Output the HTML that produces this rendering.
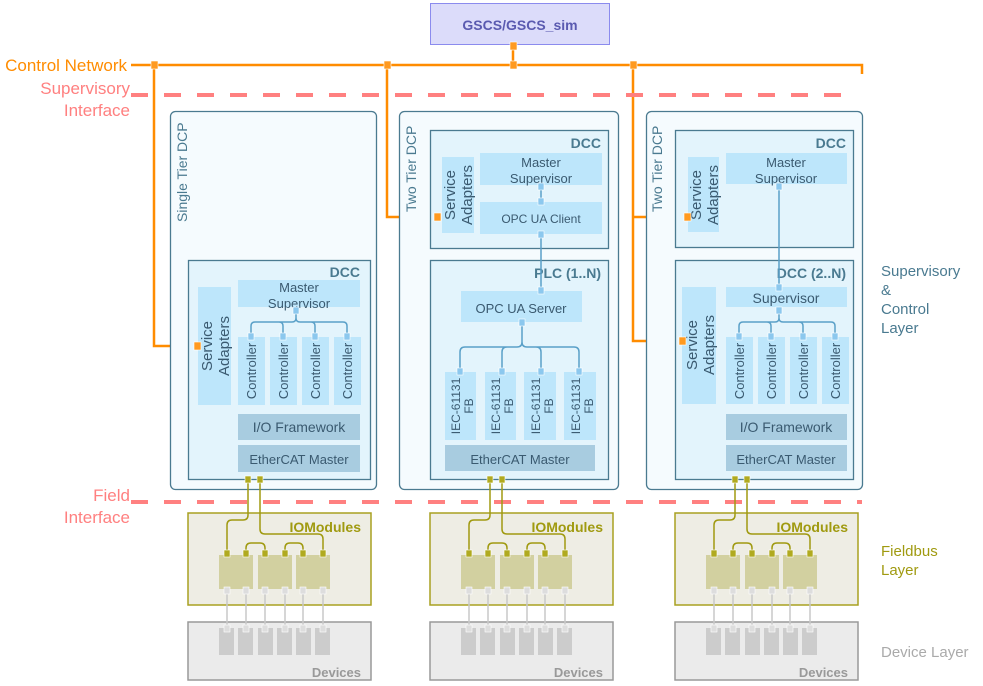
<!DOCTYPE html>
<html><head><meta charset="utf-8"><style>
html,body{margin:0;padding:0;background:#fff;}
svg{display:block;font-family:"Liberation Sans",Arial,sans-serif;}
</style></head><body>
<svg width="983" height="686" viewBox="0 0 983 686" xmlns="http://www.w3.org/2000/svg">
<defs>
<g id="fb">
  <!-- IOModules box -->
  <rect x="188" y="513" width="183" height="92" fill="#eeede4" stroke="#a8a020" stroke-width="1.5"/>
  <text x="361" y="532" text-anchor="end" font-size="14" font-weight="bold" fill="#a09a10">IOModules</text>
  <rect x="219" y="555" width="34" height="34" fill="#d2d0a0"/>
  <rect x="258" y="555" width="34" height="34" fill="#d2d0a0"/>
  <rect x="296" y="555" width="34" height="34" fill="#d2d0a0"/>
  <!-- wires EtherCAT to modules -->
  <path d="M248 481 V515 Q248 520 243 520 H232 Q227 520 227 525 V552" fill="none" stroke="#a09a10" stroke-width="1.5"/>
  <path d="M260 481 V529 Q260 534 265 534 H318 Q323 534 323 539 V552" fill="none" stroke="#a09a10" stroke-width="1.5"/>
  <path d="M246 552 V548 Q246 543 251 543 H260 Q265 543 265 548 V552" fill="none" stroke="#a09a10" stroke-width="1.5"/>
  <path d="M285 552 V548 Q285 543 290 543 H298 Q303 543 303 548 V552" fill="none" stroke="#a09a10" stroke-width="1.5"/>
  <rect x="245" y="476" width="6" height="7" fill="#b0aa20" stroke="#fff" stroke-width="0.6"/>
  <rect x="257" y="476" width="6" height="7" fill="#b0aa20" stroke="#fff" stroke-width="0.6"/>
  <g fill="#b0aa20" stroke="#fff" stroke-width="0.6">
    <rect x="224" y="550" width="6" height="7"/><rect x="243" y="550" width="6" height="7"/>
    <rect x="262" y="550" width="6" height="7"/><rect x="282" y="550" width="6" height="7"/>
    <rect x="300" y="550" width="6" height="7"/><rect x="320" y="550" width="6" height="7"/>
  </g>
  <rect x="188" y="622" width="183" height="58" fill="#ebebeb" stroke="#999" stroke-width="1.5"/>
  <g fill="#cccccc">
    <rect x="219" y="628" width="15" height="27"/><rect x="238" y="628" width="15" height="27"/>
    <rect x="258" y="628" width="15" height="27"/><rect x="277" y="628" width="15" height="27"/>
    <rect x="296" y="628" width="15" height="27"/><rect x="315" y="628" width="15" height="27"/>
  </g>
  <g stroke="#c8c8c8" stroke-width="1.5">
    <line x1="227" y1="590" x2="227" y2="628"/><line x1="246" y1="590" x2="246" y2="628"/>
    <line x1="265" y1="590" x2="265" y2="628"/><line x1="285" y1="590" x2="285" y2="628"/>
    <line x1="303" y1="590" x2="303" y2="628"/><line x1="323" y1="590" x2="323" y2="628"/>
  </g>
  <g fill="#ddd" stroke="#fff" stroke-width="0.6">
    <rect x="224" y="587" width="6" height="7"/><rect x="243" y="587" width="6" height="7"/>
    <rect x="262" y="587" width="6" height="7"/><rect x="282" y="587" width="6" height="7"/>
    <rect x="300" y="587" width="6" height="7"/><rect x="320" y="587" width="6" height="7"/>
    <rect x="224" y="625" width="6" height="7"/><rect x="243" y="625" width="6" height="7"/>
    <rect x="262" y="625" width="6" height="7"/><rect x="282" y="625" width="6" height="7"/>
    <rect x="300" y="625" width="6" height="7"/><rect x="320" y="625" width="6" height="7"/>
  </g>
  <text x="361" y="677" text-anchor="end" font-size="13" font-weight="bold" fill="#999">Devices</text>
</g>
</defs>

<!-- GSCS -->
<rect x="430.5" y="3.5" width="179" height="41" fill="#dcdcfa" stroke="#8b8bee" stroke-width="1"/>
<text x="520" y="30" text-anchor="middle" font-size="14" font-weight="bold" fill="#5a5ab0">GSCS/GSCS_sim</text>

<!-- control network -->
<g stroke="#ff8c00" stroke-width="2.5" fill="none">
  <path d="M131 65 H862 V74"/>
  <line x1="513" y1="44" x2="513" y2="65"/>
  <path d="M154 65 V346 H197"/>
  <path d="M387 65 V217 H437"/>
  <path d="M633 65 V341 H683"/>
  <path d="M633 217 H688"/>
</g>
<g fill="#ff9a20" stroke="#fff" stroke-width="0.6">
  <rect x="151" y="61" width="7" height="8"/><rect x="384" y="61" width="7" height="8"/>
  <rect x="510" y="61" width="7" height="8"/><rect x="510" y="42" width="7" height="8"/>
  <rect x="630" y="61" width="7" height="8"/>
</g>

<!-- dashed interfaces -->
<line x1="131" y1="95" x2="852" y2="95" stroke="#ff8080" stroke-width="4" stroke-dasharray="17,16"/>
<line x1="131" y1="502" x2="862" y2="502" stroke="#ff8080" stroke-width="4" stroke-dasharray="17,16"/>

<!-- left labels -->
<text x="127" y="71" text-anchor="end" font-size="17" fill="#ff8c00">Control Network</text>
<text x="130" y="94" text-anchor="end" font-size="17" fill="#ff8080">Supervisory</text>
<text x="130" y="116" text-anchor="end" font-size="17" fill="#ff8080">Interface</text>
<text x="130" y="501" text-anchor="end" font-size="17" fill="#ff8080">Field</text>
<text x="130" y="523" text-anchor="end" font-size="17" fill="#ff8080">Interface</text>

<!-- right labels -->
<g font-size="15" fill="#4a7a90">
<text x="881" y="276">Supervisory</text><text x="881" y="295">&amp;</text>
<text x="881" y="314">Control</text><text x="881" y="333">Layer</text>
</g>
<text x="881" y="556" font-size="15" fill="#a09a10">Fieldbus</text>
<text x="881" y="575" font-size="15" fill="#a09a10">Layer</text>
<text x="881" y="657" font-size="15" fill="#aaa">Device Layer</text>

<!-- ===== Box 1 ===== -->
<rect x="170.5" y="111.5" width="206" height="378" rx="5" fill="#f5fbfe" stroke="#4a7a90" stroke-width="1.3"/>
<text transform="translate(187,222) rotate(-90)" font-size="14" fill="#4a7a90">Single Tier DCP</text>
<rect x="188.5" y="260.5" width="182" height="219" fill="#e3f4fc" stroke="#4a7a90" stroke-width="1.3"/>
<text x="360" y="277" text-anchor="end" font-size="14" font-weight="bold" fill="#4a7a90">DCC</text>
<rect x="198" y="287" width="33" height="118" fill="#bde6fb"/>
<text transform="translate(212,346) rotate(-90)" text-anchor="middle" font-size="15" fill="#3a5a70">Service</text>
<text transform="translate(229,346) rotate(-90)" text-anchor="middle" font-size="15" fill="#3a5a70">Adapters</text>
<rect x="238" y="280" width="122" height="27" fill="#bde6fb"/>
<text x="299" y="292" text-anchor="middle" font-size="13" fill="#3a5a70">Master</text>
<text x="299" y="308" text-anchor="middle" font-size="13" fill="#3a5a70">Supervisor</text>
<g fill="#bde6fb">
<rect x="238" y="337" width="27" height="68"/><rect x="270" y="337" width="27" height="68"/>
<rect x="302" y="337" width="27" height="68"/><rect x="334" y="337" width="27" height="68"/>
</g>
<g font-size="13" fill="#3a5a70" text-anchor="middle">
<text transform="translate(256,371) rotate(-90)">Controller</text>
<text transform="translate(288,371) rotate(-90)">Controller</text>
<text transform="translate(320,371) rotate(-90)">Controller</text>
<text transform="translate(352,371) rotate(-90)">Controller</text>
</g>
<path d="M296 310 V318 Q296 322 292 322 H255 Q251 322 251 326 V337 M296 318 Q296 322 300 322 H343 Q347 322 347 326 V337 M283 337 V326 Q283 322 279 322 M315 337 V326 Q315 322 311 322" fill="none" stroke="#5aa0c8" stroke-width="1.5"/>
<g fill="#8cc8ee" stroke="#fff" stroke-width="0.6">
<rect x="293" y="307" width="6" height="7"/><rect x="248" y="333" width="6" height="7"/>
<rect x="280" y="333" width="6" height="7"/><rect x="312" y="333" width="6" height="7"/><rect x="344" y="333" width="6" height="7"/>
</g>
<rect x="194" y="342" width="7" height="8" fill="#ff9a20" stroke="#fff" stroke-width="0.6"/>
<rect x="238" y="414" width="122" height="26" fill="#a8cce0"/>
<text x="299" y="432" text-anchor="middle" font-size="14" fill="#3a5a70">I/O Framework</text>
<rect x="238" y="445" width="122" height="27" fill="#a8cce0"/>
<text x="299" y="464" text-anchor="middle" font-size="13" fill="#3a5a70">EtherCAT Master</text>

<!-- ===== Box 2 ===== -->
<rect x="399.5" y="111.5" width="219" height="378" rx="5" fill="#f5fbfe" stroke="#4a7a90" stroke-width="1.3"/>
<text transform="translate(416,212) rotate(-90)" font-size="14" fill="#4a7a90">Two Tier DCP</text>
<rect x="430.5" y="130.5" width="178" height="118" fill="#e3f4fc" stroke="#4a7a90" stroke-width="1.3"/>
<text x="601" y="148" text-anchor="end" font-size="14" font-weight="bold" fill="#4a7a90">DCC</text>
<rect x="442" y="157" width="32" height="76" fill="#bde6fb"/>
<text transform="translate(455,195) rotate(-90)" text-anchor="middle" font-size="15" fill="#3a5a70">Service</text>
<text transform="translate(472,195) rotate(-90)" text-anchor="middle" font-size="15" fill="#3a5a70">Adapters</text>
<rect x="480" y="153" width="122" height="32" fill="#bde6fb"/>
<text x="541" y="167" text-anchor="middle" font-size="13" fill="#3a5a70">Master</text>
<text x="541" y="183" text-anchor="middle" font-size="13" fill="#3a5a70">Supervisor</text>
<rect x="480" y="202" width="122" height="32" fill="#bde6fb"/>
<text x="541" y="223" text-anchor="middle" font-size="12" fill="#3a5a70">OPC UA Client</text>
<rect x="430.5" y="260.5" width="178" height="219" fill="#e3f4fc" stroke="#4a7a90" stroke-width="1.3"/>
<text x="601" y="278" text-anchor="end" font-size="14" font-weight="bold" fill="#4a7a90">PLC (1..N)</text>
<rect x="461" y="291" width="121" height="31" fill="#bde6fb"/>
<text x="521" y="313" text-anchor="middle" font-size="13" fill="#3a5a70">OPC UA Server</text>
<path d="M541 185 V202 M541 234 V292" stroke="#5aa0c8" stroke-width="1.5"/>
<path d="M522 322 V342 Q522 347 517 347 H465 Q460 347 460 352 V372 M522 342 Q522 347 527 347 H574 Q579 347 579 352 V372 M502 372 V352 Q502 347 507 347 M541 372 V352 Q541 347 536 347" fill="none" stroke="#5aa0c8" stroke-width="1.5"/>
<g fill="#bde6fb">
<rect x="445" y="372" width="31" height="68"/><rect x="485" y="372" width="31" height="68"/>
<rect x="524" y="372" width="32" height="68"/><rect x="564" y="372" width="32" height="68"/>
</g>
<g font-size="12" fill="#3a5a70" text-anchor="middle">
<text transform="translate(460,406) rotate(-90)">IEC-61131</text><text transform="translate(473,406) rotate(-90)">FB</text>
<text transform="translate(500,406) rotate(-90)">IEC-61131</text><text transform="translate(513,406) rotate(-90)">FB</text>
<text transform="translate(540,406) rotate(-90)">IEC-61131</text><text transform="translate(553,406) rotate(-90)">FB</text>
<text transform="translate(580,406) rotate(-90)">IEC-61131</text><text transform="translate(593,406) rotate(-90)">FB</text>
</g>
<g fill="#8cc8ee" stroke="#fff" stroke-width="0.6">
<rect x="538" y="183" width="6" height="7"/><rect x="538" y="198" width="6" height="7"/><rect x="538" y="231" width="6" height="7"/>
<rect x="538" y="287" width="6" height="7"/><rect x="519" y="319" width="6" height="7"/>
<rect x="457" y="368" width="6" height="7"/><rect x="499" y="368" width="6" height="7"/>
<rect x="538" y="368" width="6" height="7"/><rect x="576" y="368" width="6" height="7"/>
</g>
<rect x="434" y="213" width="7" height="8" fill="#ff9a20" stroke="#fff" stroke-width="0.6"/>
<rect x="445" y="445" width="150" height="26" fill="#a8cce0"/>
<text x="520" y="464" text-anchor="middle" font-size="13" fill="#3a5a70">EtherCAT Master</text>

<!-- ===== Box 3 ===== -->
<rect x="646.5" y="111.5" width="216" height="378" rx="5" fill="#f5fbfe" stroke="#4a7a90" stroke-width="1.3"/>
<text transform="translate(662,212) rotate(-90)" font-size="14" fill="#4a7a90">Two Tier DCP</text>
<rect x="675.5" y="130.5" width="178" height="117" fill="#e3f4fc" stroke="#4a7a90" stroke-width="1.3"/>
<text x="846" y="148" text-anchor="end" font-size="14" font-weight="bold" fill="#4a7a90">DCC</text>
<rect x="688" y="157" width="31" height="75" fill="#bde6fb"/>
<text transform="translate(701,195) rotate(-90)" text-anchor="middle" font-size="15" fill="#3a5a70">Service</text>
<text transform="translate(718,195) rotate(-90)" text-anchor="middle" font-size="15" fill="#3a5a70">Adapters</text>
<rect x="726" y="153" width="121" height="31" fill="#bde6fb"/>
<text x="786" y="167" text-anchor="middle" font-size="13" fill="#3a5a70">Master</text>
<text x="786" y="183" text-anchor="middle" font-size="13" fill="#3a5a70">Supervisor</text>
<rect x="675.5" y="260.5" width="178" height="219" fill="#e3f4fc" stroke="#4a7a90" stroke-width="1.3"/>
<text x="846" y="278" text-anchor="end" font-size="14" font-weight="bold" fill="#4a7a90">DCC (2..N)</text>
<rect x="682" y="287" width="34" height="117" fill="#bde6fb"/>
<text transform="translate(697,345) rotate(-90)" text-anchor="middle" font-size="15" fill="#3a5a70">Service</text>
<text transform="translate(714,345) rotate(-90)" text-anchor="middle" font-size="15" fill="#3a5a70">Adapters</text>
<rect x="726" y="287" width="121" height="20" fill="#bde6fb"/>
<text x="786" y="303" text-anchor="middle" font-size="14" fill="#3a5a70">Supervisor</text>
<path d="M779 187 V290" stroke="#5aa0c8" stroke-width="1.5"/>
<path d="M779 310 V318 Q779 322 775 322 H743 Q739 322 739 326 V337 M779 318 Q779 322 783 322 H831 Q835 322 835 326 V337 M771 337 V326 Q771 322 767 322 M803 337 V326 Q803 322 799 322" fill="none" stroke="#5aa0c8" stroke-width="1.5"/>
<g fill="#bde6fb">
<rect x="726" y="337" width="27" height="67"/><rect x="758" y="337" width="27" height="67"/>
<rect x="790" y="337" width="27" height="67"/><rect x="822" y="337" width="27" height="67"/>
</g>
<g font-size="13" fill="#3a5a70" text-anchor="middle">
<text transform="translate(744,371) rotate(-90)">Controller</text>
<text transform="translate(776,371) rotate(-90)">Controller</text>
<text transform="translate(808,371) rotate(-90)">Controller</text>
<text transform="translate(840,371) rotate(-90)">Controller</text>
</g>
<g fill="#8cc8ee" stroke="#fff" stroke-width="0.6">
<rect x="776" y="183" width="6" height="7"/><rect x="776" y="284" width="6" height="7"/><rect x="776" y="307" width="6" height="7"/>
<rect x="736" y="333" width="6" height="7"/><rect x="768" y="333" width="6" height="7"/>
<rect x="800" y="333" width="6" height="7"/><rect x="832" y="333" width="6" height="7"/>
</g>
<rect x="684" y="213" width="7" height="8" fill="#ff9a20" stroke="#fff" stroke-width="0.6"/>
<rect x="679" y="337" width="7" height="8" fill="#ff9a20" stroke="#fff" stroke-width="0.6"/>
<rect x="726" y="414" width="121" height="26" fill="#a8cce0"/>
<text x="786" y="432" text-anchor="middle" font-size="14" fill="#3a5a70">I/O Framework</text>
<rect x="726" y="445" width="121" height="26" fill="#a8cce0"/>
<text x="786" y="464" text-anchor="middle" font-size="13" fill="#3a5a70">EtherCAT Master</text>

<!-- fieldbus/device columns -->
<use href="#fb"/>
<use href="#fb" transform="translate(242,0)"/>
<use href="#fb" transform="translate(487,0)"/>
</svg>
</body></html>
